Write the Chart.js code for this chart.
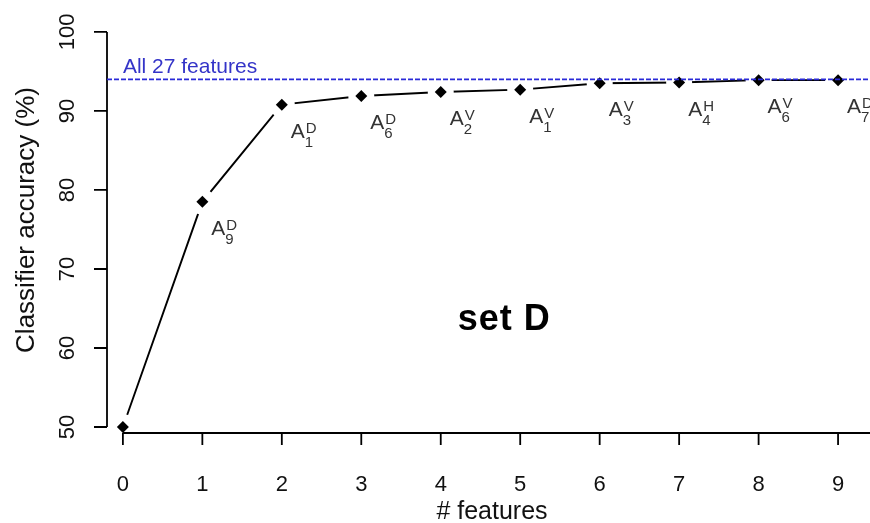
<!DOCTYPE html>
<html>
<head>
<meta charset="utf-8">
<title>set D</title>
<script src="https://cdn.jsdelivr.net/npm/chart.js@4/dist/chart.umd.min.js"></script>
<style>
  html, body { margin: 0; padding: 0; background: #fff; overflow: hidden; }
  #wrap { width: 890px; height: 523px; }
</style>
</head>
<body>
<div id="wrap"><canvas id="accChart" width="890" height="523"></canvas></div>
<script>
// values
const nFeatures = [0, 1, 2, 3, 4, 5, 6, 7, 8, 9];
const accuracy = [50, 78.5, 90.8, 91.9, 92.4, 92.7, 93.5, 93.6, 93.9, 93.9];
const featureSub = ["", "9", "1", "6", "2", "1", "3", "4", "6", "7"];
const featureSup = ["", "D", "D", "D", "V", "V", "V", "H", "V", "D"];
const allFeaturesAcc = 94.0;
const allFeaturesLabel = "All 27 features";
const xTicks = [0, 1, 2, 3, 4, 5, 6, 7, 8, 9];
const yTicks = [50, 60, 70, 80, 90, 100];

const FONT = "'Liberation Sans', Arial, Helvetica, sans-serif";

const points = nFeatures.map((x, i) => ({ x, y: accuracy[i] }));

// R-style axes: y line only between first and last tick, drawn after data
const rAxes = {
  id: "rAxes",
  afterDatasetsDraw(chart) {
    const { ctx, chartArea, scales } = chart;
    const xs = scales.x, ys = scales.y;
    ctx.save();
    ctx.strokeStyle = "#000";
    ctx.lineWidth = 1.8;

    // y axis
    const yTop = ys.getPixelForValue(yTicks[yTicks.length - 1]);
    const yBot = ys.getPixelForValue(yTicks[0]);
    ctx.beginPath();
    ctx.moveTo(chartArea.left, yTop);
    ctx.lineTo(chartArea.left, yBot);
    yTicks.forEach((v) => {
      const py = ys.getPixelForValue(v);
      ctx.moveTo(chartArea.left - 13, py);
      ctx.lineTo(chartArea.left, py);
    });
    ctx.stroke();

    // x axis (runs off the right edge)
    ctx.beginPath();
    ctx.moveTo(xs.getPixelForValue(xTicks[0]), chartArea.bottom);
    ctx.lineTo(chartArea.right, chartArea.bottom);
    xTicks.forEach((v) => {
      const px = xs.getPixelForValue(v);
      ctx.moveTo(px, chartArea.bottom);
      ctx.lineTo(px, chartArea.bottom + 12);
    });
    ctx.stroke();

    // rotated y tick labels
    ctx.fillStyle = "#111";
    ctx.font = "22px " + FONT;
    ctx.textAlign = "center";
    ctx.textBaseline = "middle";
    yTicks.forEach((v) => {
      ctx.save();
      ctx.translate(68, ys.getPixelForValue(v));
      ctx.rotate(-Math.PI / 2);
      ctx.fillText(String(v), 0, 0);
      ctx.restore();
    });

    // y title
    ctx.save();
    ctx.font = "26px " + FONT;
    ctx.translate(27, 220);
    ctx.rotate(-Math.PI / 2);
    ctx.fillText("Classifier accuracy (%)", 0, 0);
    ctx.restore();

    // reference line for all features
    const refY = ys.getPixelForValue(allFeaturesAcc);
    ctx.strokeStyle = "#2a2ad8";
    ctx.lineWidth = 1.6;
    ctx.setLineDash([5, 2]);
    ctx.beginPath();
    ctx.moveTo(chartArea.left, refY);
    ctx.lineTo(chartArea.right, refY);
    ctx.stroke();
    ctx.setLineDash([]);
    ctx.fillStyle = "#3434c8";
    ctx.font = "21px " + FONT;
    ctx.textAlign = "left";
    ctx.textBaseline = "alphabetic";
    ctx.fillText(allFeaturesLabel, xs.getPixelForValue(0), refY - 6);

    // feature labels A_sub^sup
    ctx.fillStyle = "#333";
    points.forEach((p, i) => {
      if (!featureSub[i]) return;
      const px = xs.getPixelForValue(p.x);
      const py = ys.getPixelForValue(p.y);
      ctx.font = "21px " + FONT;
      ctx.fillText("A", px + 9, py + 33);
      const wA = ctx.measureText("A").width;
      ctx.font = "15px " + FONT;
      ctx.fillText(featureSup[i], px + 10 + wA, py + 28);
      ctx.fillText(featureSub[i], px + 9 + wA, py + 42);
    });

    // panel name
    ctx.fillStyle = "#000";
    ctx.font = "bold 36px " + FONT;
    ctx.letterSpacing = "1px";
    ctx.textAlign = "center";
    ctx.textBaseline = "middle";
    ctx.fillText("set D", xs.getPixelForValue(4.8), ys.getPixelForValue(63.5));
    ctx.restore();
  },
};

new Chart(document.getElementById("accChart"), {
  type: "scatter",
  data: {
    datasets: [
      {
        // markers
        data: points,
        showLine: false,
        pointStyle: "rectRot",
        pointRadius: 6,
        pointBackgroundColor: "#000",
        pointBorderWidth: 0,
        order: 1,
      },
      {
        // white discs leave the gaps round each marker
        data: points,
        showLine: false,
        pointStyle: "circle",
        pointRadius: 13,
        pointBackgroundColor: "#fff",
        pointBorderWidth: 0,
        order: 2,
      },
      {
        data: points,
        showLine: true,
        borderColor: "#000",
        borderWidth: 1.9,
        pointRadius: 0,
        tension: 0,
        order: 3,
      },
    ],
  },
  options: {
    responsive: false,
    animation: false,
    events: [],
    layout: { padding: { top: 28, right: 11, left: 0, bottom: 0 } },
    plugins: {
      legend: { display: false },
      tooltip: { enabled: false },
    },
    scales: {
      x: {
        type: "linear",
        min: -0.2,
        max: 9.49,
        afterBuildTicks: (scale) => {
          scale.ticks = xTicks.map((v) => ({ value: v }));
        },
        afterFit: (scale) => {
          scale.height = 90;
        },
        grid: { display: false, drawTicks: false },
        border: { display: false },
        ticks: {
          color: "#111",
          font: { family: FONT, size: 22 },
          padding: 39,
          maxRotation: 0,
          autoSkip: false,
        },
        title: {
          display: true,
          text: "# features",
          color: "#111",
          font: { family: FONT, size: 25 },
          padding: { top: 0, bottom: -4 },
        },
      },
      y: {
        type: "linear",
        min: 49.24,
        max: 100.5,
        afterBuildTicks: (scale) => {
          scale.ticks = yTicks.map((v) => ({ value: v }));
        },
        afterFit: (scale) => {
          scale.width = 107;
        },
        grid: { display: false, drawTicks: false },
        border: { display: false },
        ticks: { display: false },
        title: { display: false },
      },
    },
  },
  plugins: [rAxes],
});
</script>
</body>
</html>
